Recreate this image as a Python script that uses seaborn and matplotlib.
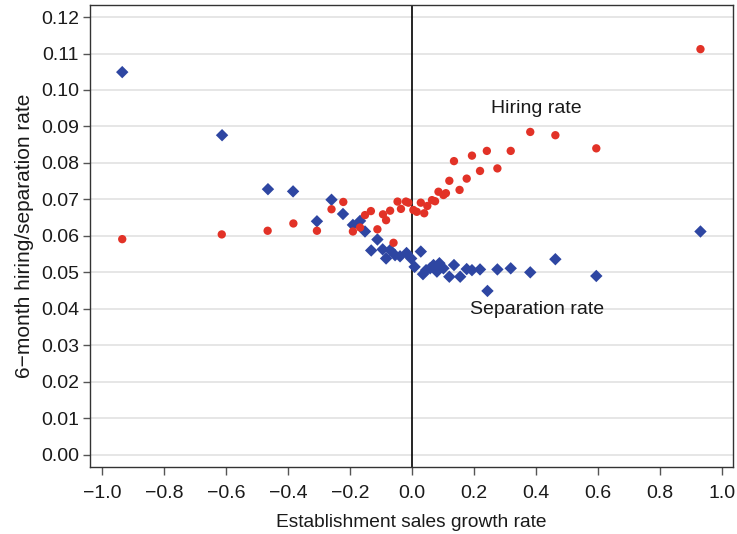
import matplotlib
matplotlib.use("Agg")
import matplotlib.pyplot as plt
import seaborn as sns
import pandas as pd

# Separation rate (blue diamonds)
sep_x = [-0.935, -0.613, -0.465, -0.384, -0.307, -0.260, -0.223, -0.191, -0.168, -0.152,
         -0.132, -0.112, -0.095, -0.084, -0.071, -0.055, -0.039, -0.018, -0.003, 0.008,
         0.028, 0.035, 0.045, 0.058, 0.069, 0.080, 0.088, 0.101, 0.120, 0.135,
         0.155, 0.176, 0.193, 0.219, 0.243, 0.275, 0.318, 0.381, 0.462, 0.594, 0.930]
sep_y = [0.1049, 0.0876, 0.0728, 0.0722, 0.0640, 0.0699, 0.0660, 0.0630, 0.0641, 0.0612,
         0.0560, 0.0590, 0.0563, 0.0538, 0.0561, 0.0547, 0.0544, 0.0553, 0.0538, 0.0515,
         0.0557, 0.0495, 0.0506, 0.0511, 0.0520, 0.0502, 0.0525, 0.0511, 0.0488, 0.0520,
         0.0488, 0.0509, 0.0506, 0.0508, 0.0449, 0.0508, 0.0511, 0.0500, 0.0536, 0.0490, 0.0612]

# Hiring rate (red circles)
hir_x = [-0.935, -0.614, -0.466, -0.383, -0.307, -0.260, -0.222, -0.191, -0.168, -0.152,
         -0.133, -0.112, -0.094, -0.084, -0.071, -0.060, -0.047, -0.036, -0.020, -0.012,
         0.004, 0.015, 0.028, 0.039, 0.049, 0.064, 0.074, 0.085, 0.101, 0.109,
         0.120, 0.135, 0.153, 0.176, 0.193, 0.219, 0.241, 0.275, 0.318, 0.381,
         0.462, 0.594, 0.930]
hir_y = [0.0591, 0.0604, 0.0614, 0.0634, 0.0614, 0.0673, 0.0693, 0.0612, 0.0623, 0.0657,
         0.0668, 0.0618, 0.0659, 0.0643, 0.0669, 0.0581, 0.0694, 0.0674, 0.0694, 0.0691,
         0.0671, 0.0666, 0.0691, 0.0662, 0.0682, 0.0698, 0.0695, 0.0721, 0.0712, 0.0717,
         0.0751, 0.0805, 0.0726, 0.0757, 0.0820, 0.0778, 0.0833, 0.0785, 0.0833, 0.0885,
         0.0876, 0.0840, 0.1112]

x_ticks = [-1.0, -0.8, -0.6, -0.4, -0.2, 0.0, 0.2, 0.4, 0.6, 0.8, 1.0]
y_ticks = [0.00, 0.01, 0.02, 0.03, 0.04, 0.05, 0.06, 0.07, 0.08, 0.09, 0.10, 0.11, 0.12]

sns.set_theme(style="white")
plt.rcParams['font.family'] = ['Liberation Sans', 'DejaVu Sans']

fig = plt.figure(figsize=(7.37, 5.34), dpi=100)
ax = fig.add_axes([0.1221, 0.126, 0.8725, 0.8646])

sep_df = pd.DataFrame({"x": sep_x, "y": sep_y})
hir_df = pd.DataFrame({"x": hir_x, "y": hir_y})

ax.set_xlim(-1.039, 1.035)
ax.set_ylim(-0.0033, 0.1233)
ax.set_yticks(y_ticks)
ax.set_yticklabels([f"{v:.2f}" for v in y_ticks])
ax.set_xticks(x_ticks)
ax.set_xticklabels([f"{v:.1f}".replace("-", "\u2212") for v in x_ticks])
ax.yaxis.grid(True, color="#e4e4e4", linewidth=1.3, zorder=0)
ax.xaxis.grid(False)
ax.set_axisbelow(True)
ax.axvline(0, color="black", linewidth=1.2, zorder=1)

sns.scatterplot(data=sep_df, x="x", y="y", ax=ax, marker="D", s=40,
                color="#2e46a2", edgecolor="none", zorder=3)
sns.scatterplot(data=hir_df, x="x", y="y", ax=ax, marker="o", s=36,
                color="#e23227", edgecolor="none", zorder=3)

ax.text(0.402, 0.0948, "Hiring rate", ha="center", va="center", fontsize=14, color="#1a1a1a")
ax.text(0.402, 0.0397, "Separation rate", ha="center", va="center", fontsize=14, color="#1a1a1a")

ax.set_xlabel("Establishment sales growth rate", fontsize=13.8, color="#1a1a1a", labelpad=9)
ax.set_ylabel("6\u2212month hiring/separation rate", fontsize=15, color="#1a1a1a", labelpad=5)

for s in ax.spines.values():
    s.set_visible(True)
    s.set_color("#333333")
    s.set_linewidth(1.0)
ax.tick_params(axis="both", which="major", direction="out", length=5, width=1,
               color="#555555", labelsize=14, labelcolor="#1a1a1a", bottom=True, left=True, pad=3)
ax.tick_params(axis="x", pad=7, length=6)

fig.savefig("out.png", dpi=100)
